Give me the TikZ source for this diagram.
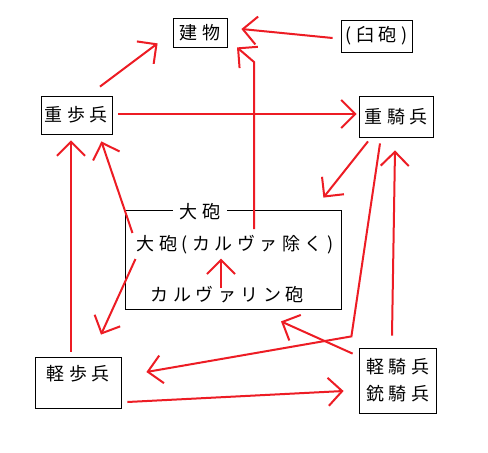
\documentclass[tikz,border=0pt]{standalone}
\usepackage{fontspec}
\newfontfamily\jp[LetterSpace=25]{Noto Sans CJK JP}
\usetikzlibrary{arrows.meta}
\definecolor{paintred}{RGB}{237,28,36}
\tikzset{
  unit/.style 2 args={
    draw,
    line width=0.8pt,
    minimum width=#1pt,
    minimum height=#2pt,
    inner sep=0pt,
    align=center,
    font=\jp\fontsize{18}{27}\selectfont
  },
  lbl/.style={
    inner sep=0pt,
    font=\jp\fontsize{18}{27}\selectfont
  },
  hit/.style={
    paintred,
    line width=2pt,
    -{Straight Barb[length=14pt,width=28pt]}
  },
  every picture/.style={x=1pt,y=-1pt}
}

\begin{document}
\begin{tikzpicture}
  \fill[white] (0,0) rectangle (488,453);
  % units
  \node[unit={54}{29}] (bldg) at (200,32.5) {建物};
  \node[unit={71}{32}] (mortar) at (376.5,36) {(臼砲)};
  \node[unit={71}{38}] (hinf) at (76.5,115) {重歩兵};
  \node[unit={74}{41}] (hcav) at (396,116.5) {重騎兵};
  \node[unit={86}{51},text height=14pt,text depth=19pt] (linf) at (78,382.5) {軽歩兵};
  \node[unit={77}{65}] (lcav) at (397.5,380.5) {軽騎兵\\銃騎兵};
  % artillery group
  \node[draw,line width=0.8pt,minimum width=216pt,minimum height=99pt] (grp) at (233,259.5) {};
  \node[lbl,fill=white,inner xsep=7pt,inner ysep=2pt] (grptitle) at ([xshift=-33pt,yshift=-2pt]grp.north) {大砲};
  \node[lbl] (arty) at (235,245) {大砲(カルヴァ除く)};
  \node[lbl] (culv) at (227,295) {カルヴァリン砲};
  % arrows
  \draw[hit] ([xshift=23.5pt,yshift=9pt]hinf.north) -- ([xshift=-15pt,yshift=4pt]bldg.south west);
  \draw[hit] ([xshift=-8pt,yshift=-2pt]mortar.west) -- ([xshift=14pt,yshift=3.5pt]bldg.east);
  \draw[hit] ([xshift=19pt,yshift=16pt]arty.center) -- ++(0,-167) -- ([xshift=37pt]bldg.south);
  \draw[hit] ([xshift=6pt,yshift=1pt]hinf.east) -- ([xshift=-2pt,yshift=1pt]hinf.east -| hcav.west);
  \draw[hit] ([xshift=-28pt,yshift=-4pt]hcav.south) -- ([xshift=-18pt,yshift=12pt]grp.north east);
  \draw[hit] ([xshift=-16pt,yshift=-6pt]hcav.south) -- ([xshift=10pt,yshift=-27pt]grp.south east)
    -- ([xshift=25pt,yshift=10.5pt]linf.east);
  \draw[hit] ([xshift=-5.5pt,yshift=12pt]lcav.north) -- ([xshift=-1pt,yshift=-13pt]hcav.south);
  \draw[hit] ([xshift=-6pt,yshift=-6pt]lcav.north west) -- ([xshift=48pt,yshift=-12pt]grp.south);
  \draw[hit] ([xshift=6pt,yshift=-19.5pt]linf.east) -- ([xshift=-15pt,yshift=-10.5pt]lcav.west);
  \draw[hit] ([xshift=-7pt,yshift=5pt]linf.north) -- ([xshift=-5.5pt,yshift=-6pt]hinf.south);
  \draw[hit] ([xshift=-4pt,yshift=12pt]arty.west) -- ([xshift=-11pt,yshift=-7pt]hinf.south east);
  \draw[hit] ([xshift=-1pt,yshift=-14pt]arty.west) -- ([xshift=23pt,yshift=22pt]linf.north);
  \draw[hit] ([xshift=-6pt,yshift=7pt]culv.center) -- ([xshift=-6pt,yshift=-4pt]arty.south -| culv.center);
\end{tikzpicture}
\end{document}
